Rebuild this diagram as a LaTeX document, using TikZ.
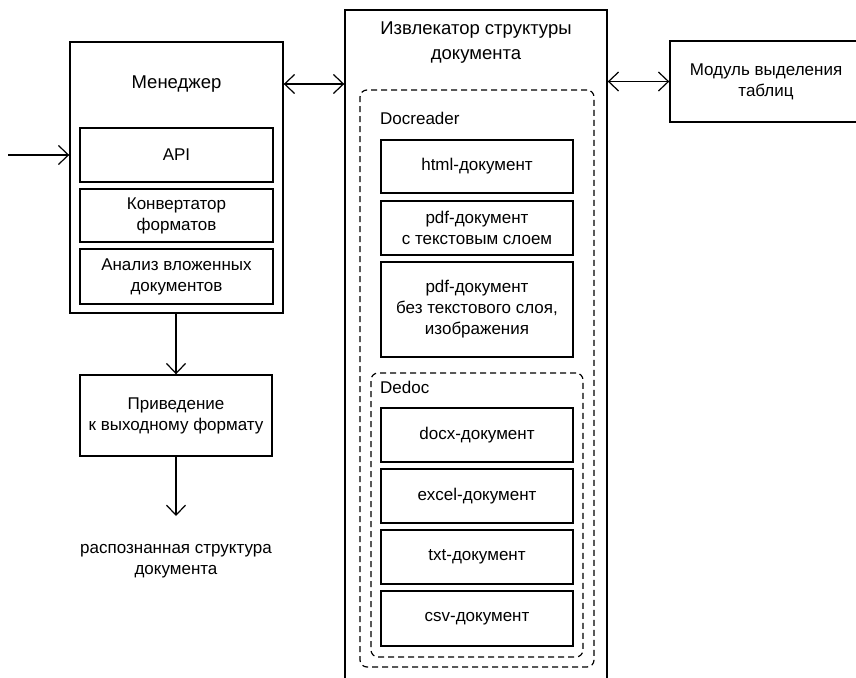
\documentclass[tikz,border=0pt]{standalone}
\usepackage{fontspec}
\setmainfont{Liberation Sans}
\usetikzlibrary{arrows.meta}

\tikzset{
  box/.style={draw, line width=1.4pt, inner sep=0pt, align=center},
  grp/.style={draw, line width=1.2pt, dash pattern=on 6pt off 4pt, rounded corners=7pt, inner sep=0pt},
  title/.style={align=center, font=\fontsize{18.5}{25}\selectfont},
  tip/.style={Straight Barb[length=10pt,width=19pt,line width=1.2pt]},
  arr/.style={line width=1.3pt, -{Straight Barb[length=10pt,width=19pt,line width=1.2pt]}},
  darr/.style={line width=1.3pt, {Straight Barb[length=10pt,width=19pt,line width=1.2pt]}-{Straight Barb[length=10pt,width=19pt,line width=1.2pt]}},
}

\begin{document}
\begin{tikzpicture}[x=1pt, y=-1pt, font=\fontsize{17}{21}\selectfont]
       \clip (0,0) rectangle (856,677);

       % Менеджер
       \node[box, minimum width=213pt, minimum height=271pt](man) at (176.5,177.5) {};
       \node[title](manT) at (176.5,84) {Менеджер};
       \node[box, minimum width=193pt, minimum height=54pt](api) at (176.5,155) {API};
       \node[box, minimum width=193pt, minimum height=53pt](conv) at (176.5,215.5) {Конвертатор\\форматов};
       \node[box, minimum width=193pt, minimum height=55pt](anal) at (176.5,276.5) {Анализ вложенных\\документов};

       \coordinate(in) at (8,155);
       \draw[arr] (in) -- (man.west |- api);

       \node[box, minimum width=192pt, minimum height=81pt](outf) at (176,415.5) {Приведение\\к выходному формату};
       \draw[arr] (man.south -| outf) -- (outf.north);

       \coordinate(res) at (176,516);
       \draw[arr] (outf.south) -- (res);
       \node[align=center](resT) at (176,561) {распознанная структура\\документа};

       % Извлекатор структуры документа
       \node[box, minimum width=262pt, minimum height=680pt](ext) at (476,350) {};
       \node[title](extT) at (476,42.5) {Извлекатор структуры\\документа};
       \draw[darr] (man.east |- manT) -- (ext.west |- manT);

       \node[grp, minimum width=234pt, minimum height=577pt](docr) at (477,378.5) {};
       \node[anchor=west, inner sep=0pt](docrT) at (380,118) {Docreader};
       \node[box, minimum width=192pt, minimum height=53pt](html) at (477,166.5) {html-документ};
       \node[box, minimum width=192pt, minimum height=54pt](pdfa) at (477,228) {pdf-документ\\с текстовым слоем};
       \node[box, minimum width=192pt, minimum height=95pt](pdfb) at (477,309.5) {pdf-документ\\без текстового слоя,\\изображения};

       \node[grp, minimum width=212pt, minimum height=284pt](dedoc) at (477,515) {};
       \node[anchor=west, inner sep=0pt](dedocT) at (380,387) {Dedoc};
       \node[box, minimum width=192pt, minimum height=54pt](docx) at (477,435) {docx-документ};
       \node[box, minimum width=192pt, minimum height=54pt](xls) at (477,496) {excel-документ};
       \node[box, minimum width=192pt, minimum height=54pt](txt) at (477,557) {txt-документ};
       \node[box, minimum width=192pt, minimum height=55pt](csv) at (477,618.5) {csv-документ};

       % Модуль выделения таблиц
       \node[box, minimum width=200pt, minimum height=81pt](tab) at (770,81.5) {};
       \node[align=center](tabT) at (766,82) {Модуль выделения\\таблиц};
       \draw[darr] (ext.east |- tab.west) -- (tab.west);
\end{tikzpicture}
\end{document}
